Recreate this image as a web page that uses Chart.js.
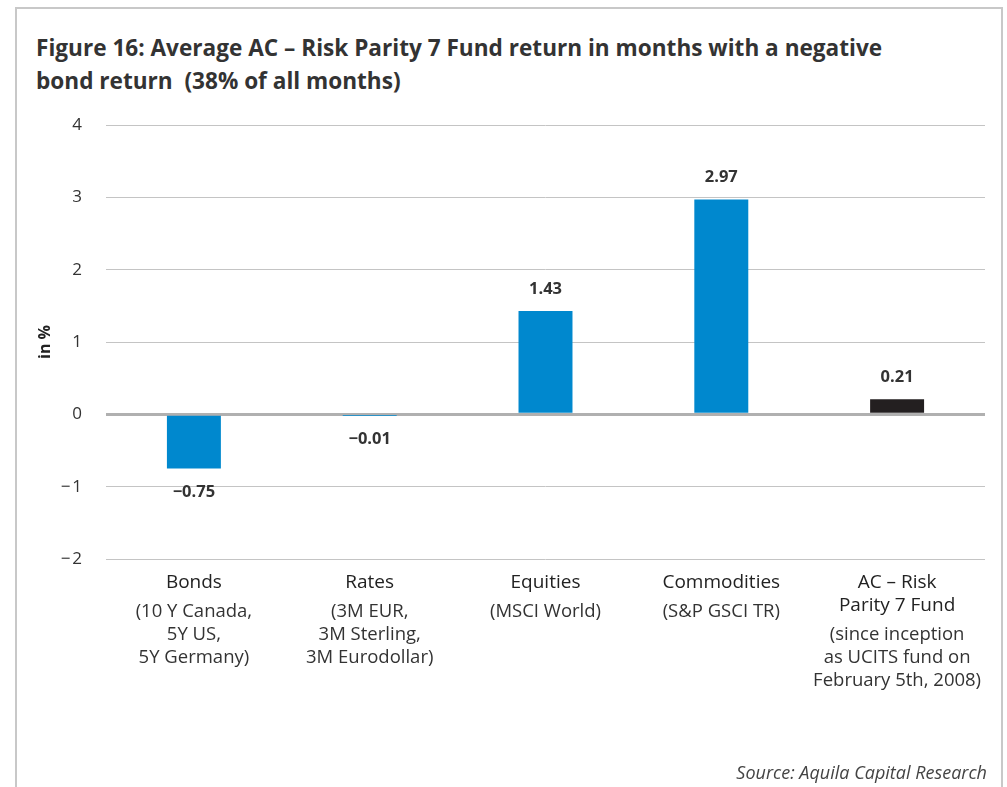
<!DOCTYPE html>
<html>
<head>
<meta charset="utf-8">
<script src="https://cdn.jsdelivr.net/npm/chart.js@4.4.0/dist/chart.umd.min.js"></script>
<style>
  html, body { margin: 0; padding: 0; background: #fff; }
  body { width: 1007px; height: 787px; position: relative; overflow: hidden; font-family: "Open Sans", "Noto Sans", sans-serif; }
  #frame { position: absolute; left: 15px; top: 7px; width: 988px; height: 800px; border: 2px solid #c8c8c8; border-bottom: none; box-sizing: border-box; }
  #title { position: absolute; left: 36px; top: 31px; font-weight: bold; font-size: 22.6px; line-height: 33px; color: #333; white-space: nowrap; }
  #source { position: absolute; right: 20px; top: 760px; font-style: italic; font-size: 18px; color: #444; }
  #wrap { position: absolute; left: 0; top: 0; width: 1007px; height: 787px; }
</style>
</head>
<body>
<div id="frame"></div>
<div id="title">Figure 16: Average AC – Risk Parity 7 Fund return in months with a negative<br>bond return&nbsp; (38% of all months)</div>
<div id="wrap"><canvas id="c" width="1007" height="787"></canvas></div>
<div id="source">Source: Aquila Capital Research</div>
<script>
// ---- data ----
const categories = ["Bonds", "Rates", "Equities", "Commodities", "AC – Risk Parity 7 Fund"];
const categoryNameLines = [["Bonds"], ["Rates"], ["Equities"], ["Commodities"], ["AC – Risk", "Parity 7 Fund"]];
const categorySubLines = [
  ["(10 Y Canada,", "5Y US,", "5Y Germany)"],
  ["(3M EUR,", "3M Sterling,", "3M Eurodollar)"],
  ["(MSCI World)"],
  ["(S&P GSCI TR)"],
  ["(since inception", "as UCITS fund on", "February 5th, 2008)"]
];
const values = [-0.75, -0.01, 1.43, 2.97, 0.21];
const yTicks = [-2, -1, 0, 1, 2, 3, 4];
const barColors = ["#0088ce", "#0088ce", "#0088ce", "#0088ce", "#231f20"];

const fmt = v => (v < 0 ? "\u2212" : "") + Math.abs(v).toFixed(2);
const fmtTick = v => (v < 0 ? "\u2212\u200a" : "") + Math.abs(v);

const valueLabels = {
  id: "valueLabels",
  afterDatasetsDraw(chart) {
    const ctx = chart.ctx;
    const meta = chart.getDatasetMeta(0);
    ctx.save();
    ctx.font = "bold 16.5px 'Open Sans', sans-serif";
    ctx.fillStyle = "#333";
    ctx.textAlign = "center";
    ctx.textBaseline = "middle";
    meta.data.forEach((bar, i) => {
      const v = values[i];
      const y = v >= 0 ? bar.y - 22 : bar.y + 24;
      ctx.fillText(fmt(v), bar.x, y);
    });
    ctx.restore();
  }
};

const catLabels = {
  id: "catLabels",
  afterDraw(chart) {
    const ctx = chart.ctx;
    const xs = chart.scales.x;
    const top = chart.chartArea.bottom;
    ctx.save();
    ctx.textAlign = "center";
    ctx.textBaseline = "middle";
    categories.forEach((c, i) => {
      const x = xs.getPixelForValue(i);
      let y = top + 24;
      ctx.font = "19px 'Open Sans', sans-serif";
      ctx.fillStyle = "#222";
      categoryNameLines[i].forEach((l, k) => {
        ctx.fillText(l, x, y);
        if (k < categoryNameLines[i].length - 1) y += 23;
      });
      y += 29;
      ctx.font = "18.5px 'Open Sans', sans-serif";
      ctx.fillStyle = "#333";
      categorySubLines[i].forEach(l => {
        ctx.fillText(l, x, y);
        y += 23;
      });
    });
    ctx.restore();
  }
};

new Chart(document.getElementById("c"), {
  type: "bar",
  data: {
    labels: categories,
    datasets: [{
      data: values,
      backgroundColor: barColors,
      borderWidth: 0,
      categoryPercentage: 1,
      barPercentage: 0.307
    }]
  },
  options: {
    responsive: false,
    animation: false,
    devicePixelRatio: 1,
    layout: { padding: { left: 0, right: 22, top: 125, bottom: 228 } },
    plugins: { legend: { display: false }, title: { display: false }, tooltip: { enabled: false } },
    scales: {
      x: {
        offset: true,
        grid: { display: false, drawTicks: false },
        border: { display: false },
        ticks: { display: false },
        afterFit(s) { s.height = 0; }
      },
      y: {
        min: -2, max: 4,
        afterFit(s) { s.width = 106; },
        afterBuildTicks(s) { s.ticks = yTicks.map(v => ({ value: v })); },
        border: { display: false },
        grid: {
          drawTicks: false,
          color: ctx => (ctx.tick && ctx.tick.value === 0) ? "#b0b0b0" : "#c4c4c4",
          lineWidth: ctx => (ctx.tick && ctx.tick.value === 0) ? 3 : 1
        },
        ticks: {
          padding: 24,
          color: "#333",
          font: { family: "'Open Sans', sans-serif", size: 17 },
          callback: v => fmtTick(v)
        },
        title: {
          display: true,
          text: "in %",
          color: "#222",
          font: { family: "'Open Sans', sans-serif", size: 16, weight: "bold" },
          padding: { top: 36, bottom: 0 }
        }
      }
    }
  },
  plugins: [valueLabels, catLabels]
});
</script>
</body>
</html>
